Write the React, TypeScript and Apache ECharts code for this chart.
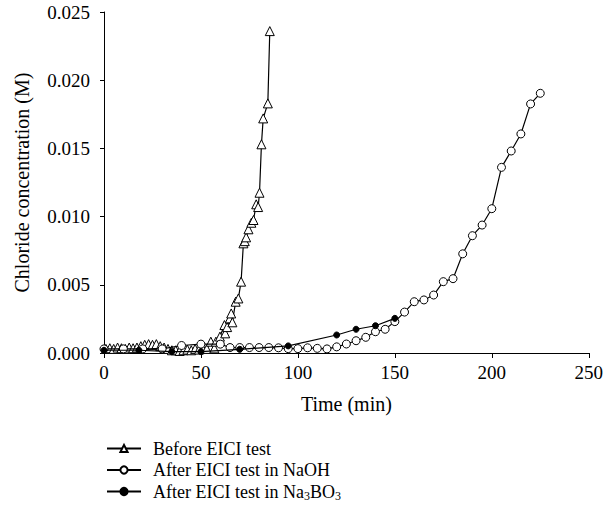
import React, { useEffect, useRef } from "react";
import * as echarts from "echarts";

const FONT = "'Liberation Serif', 'DejaVu Serif', serif";

const xTicks = [0, 50, 100, 150, 200, 250];
const yTicks = [0, 0.005, 0.01, 0.015, 0.02, 0.025];

const seriesNames = [
  "Before EICI test",
  "After EICI test in NaOH",
  "After EICI test in Na3BO3",
];

// Before EICI test (triangles)
const beforeTime = [
  1, 3, 5, 7, 9, 11, 13, 15, 17, 19, 21, 23, 25, 27, 29, 31, 33, 35, 37, 39,
  41, 43, 45, 47, 49, 51, 53, 55.1, 56.9, 57.7, 59.8, 62.1, 62.5, 63.5, 64.9,
  65.6, 66.2, 67.9, 69.3, 70.7, 71.9, 72.6, 73.3, 74.5, 76, 77.1, 78.5, 79.5,
  80.2, 81.2, 82.1, 84.5, 85.5,
];
const beforeConc = [
  0.0003, 0.00035, 0.0003, 0.0004, 0.00035, 0.0003, 0.0004, 0.00035, 0.0004,
  0.0005, 0.0006, 0.00065, 0.0006, 0.00065, 0.0005, 0.0004, 0.0003, 0.0002,
  0.0002, 0.00015, 0.0002, 0.00025, 0.0002, 0.0003, 0.00025, 0.0003, 0.0003,
  0.00083, 0.00034, 0.00083, 0.0012, 0.00205, 0.00144, 0.0019, 0.00254,
  0.0029, 0.00225, 0.00376, 0.004, 0.00523, 0.00804, 0.0082, 0.00848, 0.00907,
  0.00955, 0.00975, 0.0109, 0.0107, 0.01175, 0.0153, 0.0172, 0.0183, 0.0236,
];

// After EICI test in NaOH (open circles)
const naohTime = [
  0, 10, 20, 30, 40, 50, 60, 65, 70, 75, 80, 85, 90, 95, 100, 105, 110, 115,
  120, 125, 130, 135, 140, 145, 150, 155, 160, 165, 170, 175, 180, 185, 190,
  195, 200, 205, 210, 215, 220, 225,
];
const naohConc = [
  0.0003, 0.0003, 0.0003, 0.0003, 0.00055, 0.00065, 0.00065, 0.0004, 0.0004,
  0.0004, 0.0004, 0.0004, 0.00038, 0.00032, 0.00032, 0.00038, 0.00034, 0.0003,
  0.00045, 0.00066, 0.0009, 0.00115, 0.00156, 0.00174, 0.0023, 0.003, 0.00376,
  0.00389, 0.00425, 0.00523, 0.00545, 0.00727, 0.0086, 0.00938, 0.01058,
  0.01361, 0.01481, 0.01606, 0.01826, 0.01904,
];

// After EICI test in Na3BO3 (filled circles)
const boTime = [0, 18, 35, 50, 70, 95, 120, 130, 140, 150];
const boConc = [
  0.0002, 0.0002, 0.0001, 0.0001, 0.00027, 0.00052, 0.00132, 0.00174, 0.002,
  0.00254,
];

const pairs = (xs: number[], ys: number[]) => xs.map((x, i) => [x, ys[i]]);

export default function App() {
  const ref = useRef<HTMLDivElement>(null);
  useEffect(() => {
    if (!ref.current) return;
    const chart = echarts.init(ref.current, undefined, { renderer: "svg" });
    const axisCommon = {
      axisLine: { show: true, lineStyle: { color: "#000", width: 1 } },
      axisTick: { show: true, inside: false, length: 5, lineStyle: { color: "#000" } },
      splitLine: { show: false },
      axisLabel: { color: "#000", fontFamily: FONT, fontSize: 19 },
      nameTextStyle: { color: "#000", fontFamily: FONT, fontSize: 20, fontWeight: "normal" },
    };
    chart.setOption({
      animation: false,
      backgroundColor: "#fff",
      grid: { left: 104, right: 14, top: 12, bottom: 167, containLabel: false },
      xAxis: {
        type: "value",
        min: xTicks[0],
        max: xTicks[xTicks.length - 1],
        interval: 50,
        name: "Time (min)",
        nameLocation: "middle",
        nameGap: 41,
        ...axisCommon,
        axisLabel: { ...axisCommon.axisLabel, margin: 10 },
      },
      yAxis: {
        type: "value",
        min: yTicks[0],
        max: yTicks[yTicks.length - 1],
        interval: 0.005,
        name: "Chloride concentration (M)",
        nameLocation: "middle",
        nameGap: 72,
        ...axisCommon,
        axisTick: { ...axisCommon.axisTick, length: 4 },
        axisLabel: {
          ...axisCommon.axisLabel,
          margin: 14,
          formatter: (v: number) => v.toFixed(3),
        },
      },
      legend: {
        orient: "vertical",
        left: 101,
        top: 433,
        itemWidth: 34,
        itemHeight: 9,
        itemGap: 0.5,
        data: seriesNames,
        textStyle: {
          color: "#000",
          fontFamily: FONT,
          fontSize: 18,
          lineHeight: 21,
          padding: [0, 0, 0, 7],
          rich: {
            n: { fontFamily: FONT, fontSize: 18, lineHeight: 21, color: "#000" },
            s: {
              fontFamily: FONT,
              fontSize: 12,
              lineHeight: 12,
              verticalAlign: "bottom",
              color: "#000",
            },
          },
        },
        formatter: (name: string) =>
          name === seriesNames[2]
            ? "{n|After EICI test in Na}{s|3}{n|BO}{s|3}"
            : name,
      },
      series: [
        {
          name: seriesNames[0],
          type: "line",
          data: pairs(beforeTime, beforeConc),
          symbol: "triangle",
          symbolSize: 9,
          showAllSymbol: true,
          lineStyle: { color: "#000", width: 1.2 },
          itemStyle: { color: "#fff", borderColor: "#000", borderWidth: 1 },
          z: 2,
        },
        {
          name: seriesNames[1],
          type: "line",
          data: pairs(naohTime, naohConc),
          symbol: "circle",
          symbolSize: 8,
          showAllSymbol: true,
          lineStyle: { color: "#000", width: 1.2 },
          itemStyle: { color: "#fff", borderColor: "#000", borderWidth: 1 },
          z: 3,
        },
        {
          name: seriesNames[2],
          type: "line",
          data: pairs(boTime, boConc),
          symbol: "circle",
          symbolSize: 6,
          showAllSymbol: true,
          lineStyle: { color: "#000", width: 1.2 },
          itemStyle: { color: "#000", borderColor: "#000", borderWidth: 1 },
          z: 4,
        },
      ],
    });
    return () => chart.dispose();
  }, []);
  return (
    <div
      ref={ref}
      style={{ position: "absolute", left: 0, top: 0, width: 606, height: 520 }}
    />
  );
}
